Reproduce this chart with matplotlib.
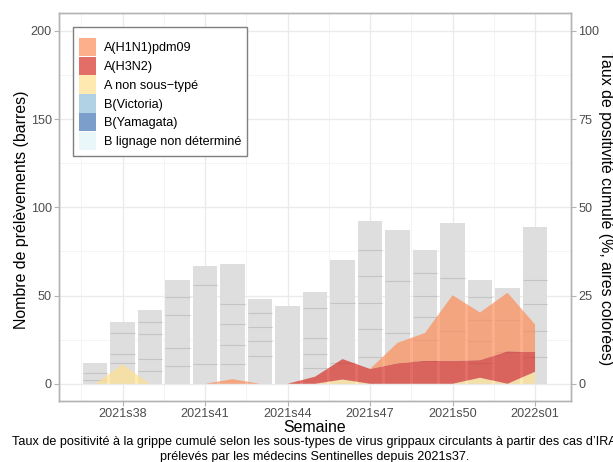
import numpy as np
import matplotlib
matplotlib.use("Agg")
import matplotlib.pyplot as plt
from matplotlib.patches import Patch

plt.rcParams['font.family'] = ['Liberation Sans', 'DejaVu Sans']

# ---------------------------------------------------
# Data
# ---------------------------------------------------
weeks = ["2021s37", "2021s38", "2021s39", "2021s40", "2021s41", "2021s42",
         "2021s43", "2021s44", "2021s45", "2021s46", "2021s47", "2021s48",
         "2021s49", "2021s50", "2021s51", "2021s52", "2022s01"]
tick_weeks = ["2021s38", "2021s41", "2021s44", "2021s47", "2021s50", "2022s01"]

# number of samples per week (stacked segments of each bar)
samples = [
    [2, 4, 6],
    [12, 5, 12, 6],
    [7, 7, 14, 7, 7],
    [10, 10, 19, 10, 10],
    [11, 45, 11],
    [11, 11, 12, 11, 23],
    [16, 8, 8, 8, 8],
    [44],
    [9, 8, 9, 17, 9],
    [12, 34, 24],
    [15, 16, 15, 15, 15, 16],
    [29, 29, 29],
    [13, 12, 13, 12, 13, 13],
    [30, 30, 31],
    [12, 12, 12, 13, 10],
    [18, 18, 18],
    [15, 15, 15, 14, 30],
]

# cumulative positivity rate (%) by subtype
h1n1 = [0, 0, 0, 0, 0, 1.3, 0, 0, 0, 0, 0, 5.8, 7.9, 18.6, 13.5, 16.6, 7.8]
h3n2 = [0, 0, 0, 0, 0, 0, 0, 0, 2.0, 5.8, 4.2, 5.8, 6.5, 6.5, 5.0, 9.2, 5.6]
a_nst = [0, 5.5, 0, 0, 0, 0, 0, 0, 0, 1.2, 0, 0, 0, 0, 1.7, 0, 3.4]
b_vic = [0] * 17
b_yam = [0] * 17
b_nd = [0] * 17

labels = ["A(H1N1)pdm09", "A(H3N2)", "A non sous\u2212typé",
          "B(Victoria)", "B(Yamagata)", "B lignage non déterminé"]
colors = ["#FC8D59", "#D73027", "#FEE090", "#91BFDB", "#4575B4", "#E0F3F8"]

# ---------------------------------------------------
# Figure
# ---------------------------------------------------
W, H = 613, 462
L, R, T, B = 59.3, 570.8, 13.3, 401.4   # panel edges in pixels
fs_small = 9.1
fs_title = 11.4
fig = plt.figure(figsize=(W / 100, H / 100), dpi=100)
ax = fig.add_axes([L / W, 1 - B / H, (R - L) / W, (B - T) / H])

x = np.arange(len(weeks))
totals = [sum(s) for s in samples]
ax.bar(x, totals, width=0.9, color="#DEDEDE", zorder=2)
for i, segs in enumerate(samples):
    cum = np.cumsum(segs)[:-1]
    if len(cum):
        ax.hlines(cum, i - 0.45, i + 0.45, colors="#C4C4C4", lw=0.8, zorder=3)

ax.set_xlim(-1.3, 17.3)
ax.set_ylim(-10, 210)
ax.set_axisbelow(True)

ax.set_yticks([0, 50, 100, 150, 200])
ax.set_yticks([25, 75, 125, 175], minor=True)
tick_pos = [weeks.index(w) for w in tick_weeks]
ax.set_xticks(tick_pos)
ax.set_xticklabels(tick_weeks)
ax.set_xticks([p - 1.5 for p in tick_pos], minor=True)
ax.grid(which="major", color="#EBEBEB", lw=1.0)
ax.grid(which="minor", color="#F2F2F2", lw=0.6)

grey = "#B3B3B3"
ax.tick_params(which="major", length=3.5, width=0.8, color=grey,
               labelcolor="#4D4D4D", labelsize=fs_small, pad=2.0)
ax.tick_params(axis="x", pad=1.5)
ax.tick_params(which="minor", length=0)

# areas on the secondary axis (%)
ax2 = ax.twinx()
ax2.set_ylim(-5, 105)
ax2.set_yticks([0, 25, 50, 75, 100])
ax2.stackplot(x, b_nd, b_yam, b_vic, a_nst, h3n2, h1n1,
              colors=colors[::-1], alpha=0.7, lw=0)
ax2.tick_params(which="major", length=3.5, width=0.8, color=grey,
                labelcolor="#4D4D4D", labelsize=fs_small, pad=2.0)
for a in (ax, ax2):
    for s in a.spines.values():
        s.set_color(grey)
        s.set_linewidth(1.0)

ax.set_xlabel("Semaine", fontsize=fs_title, va="center")
ax.xaxis.set_label_coords(0.5, (B - 428) / (B - T))
ax.set_ylabel("Nombre de prélèvements (barres)", fontsize=fs_title, va="center")
ax.yaxis.set_label_coords((21.7 - L) / (R - L), (B - 210) / (B - T))
ax2.set_ylabel("Taux de positivité cumulé (%, aires colorées)", fontsize=fs_title,
               rotation=-90, va="center")
ax2.yaxis.set_label_coords((605 - L) / (R - L), (B - 208) / (B - T))

handles = [Patch(facecolor=c, alpha=0.7, lw=0) for c in colors]
leg = ax2.legend(handles, labels, loc="upper left",
                 bbox_to_anchor=(73.3 / W, 1 - 26.7 / H),
                 bbox_transform=fig.transFigure, borderaxespad=0,
                 fontsize=fs_small, title=" ", title_fontsize=4,
                 frameon=True, fancybox=False, framealpha=1,
                 edgecolor="#7F7F7F", handlelength=1.35, handleheight=1.85,
                 labelspacing=0.04, handletextpad=0.65, borderpad=0.45)
leg.get_frame().set_linewidth(1.0)

fig.text(314.5 / W, 1 - 441.7 / H,
         "Taux de positivité à la grippe cumulé selon les sous-types de virus "
         "grippaux circulants à partir des cas d\u2019IRA",
         ha="center", va="center", fontsize=fs_small)
fig.text(314.5 / W, 1 - 456.7 / H,
         "prélevés par les médecins Sentinelles depuis 2021s37.",
         ha="center", va="center", fontsize=fs_small)

fig.savefig("out.png", dpi=100)
